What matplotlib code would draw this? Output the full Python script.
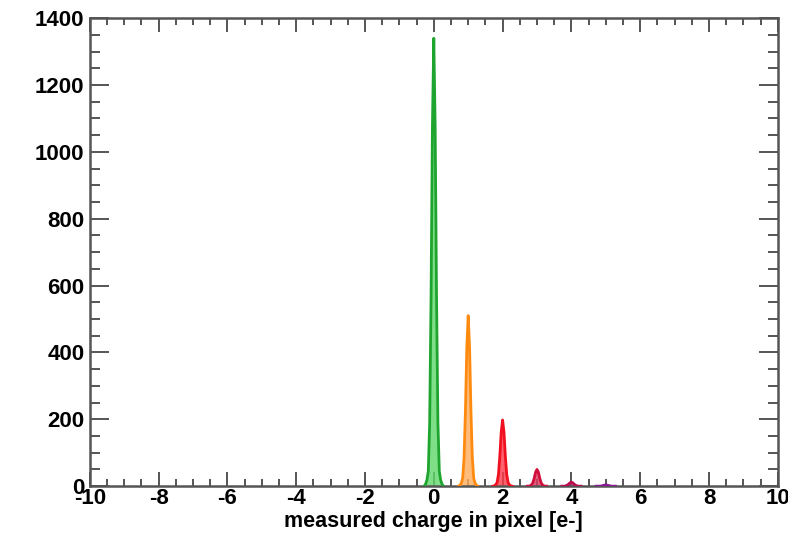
import numpy as np
import matplotlib.pyplot as plt
from matplotlib.ticker import MultipleLocator

plt.rcParams['font.family'] = ['Liberation Sans', 'DejaVu Sans']
plt.rcParams['font.weight'] = 'bold'
plt.rcParams['axes.unicode_minus'] = False

# bin offsets around each charge peak (bin width 0.04 e-)
offsets = [-0.28, -0.24, -0.20, -0.16, -0.12, -0.08, -0.04, 0.0,
           0.04, 0.08, 0.12, 0.16, 0.20, 0.24, 0.28]

# peak positions (electrons)
peak_pos = [0, 1, 2, 3, 4, 5]

# counts per bin, one list per peak
counts_0e = [0, 6, 18, 45, 190, 560, 1075, 1340, 1075, 560, 190, 45, 18, 6, 0]
counts_1e = [0, 3, 9, 24, 85, 225, 415, 510, 415, 225, 85, 24, 9, 3, 0]
counts_2e = [0, 1, 4, 11, 35, 90, 162, 198, 162, 90, 35, 11, 4, 1, 0]
counts_3e = [0, 0, 1, 4, 10, 24, 42, 50, 42, 24, 10, 4, 1, 0, 0]
counts_4e = [0, 0, 0, 1, 3, 6, 10, 12, 10, 6, 3, 1, 0, 0, 0]
counts_5e = [0, 0, 0, 0, 1, 2, 3, 4, 3, 2, 1, 0, 0, 0, 0]

all_counts = [counts_0e, counts_1e, counts_2e, counts_3e, counts_4e, counts_5e]
edge_cols = ['#1fa52f', '#ff8a10', '#f01020', '#d0103c', '#b80c50', '#8a1a9a']
fill_cols = ['#5fd86a', '#ffac5a', '#ff3a48', '#e0385e', '#c83070', '#a040b0']

fig = plt.figure(figsize=(7.88, 5.36), dpi=100)
ax = fig.add_axes([0.114, 0.093, 0.873, 0.873])

for pos, cnt, ec, fc in zip(peak_pos, all_counts, edge_cols, fill_cols):
    x = pos + np.array(offsets)
    y = np.array(cnt)
    ax.fill_between(x, 0, y, color=fc, alpha=0.8, linewidth=0, zorder=2)
    ax.plot(x, y, color=ec, linewidth=2.0, zorder=3)

ax.set_xlim(-10, 10)
ax.set_ylim(0, 1400)

ax.xaxis.set_major_locator(MultipleLocator(2))
ax.xaxis.set_minor_locator(MultipleLocator(0.5))
ax.yaxis.set_major_locator(MultipleLocator(200))
ax.yaxis.set_minor_locator(MultipleLocator(50))

ax.tick_params(which='both', direction='in', top=True, right=True,
               color='#555555', width=1.4)
ax.tick_params(axis='y', which='major', length=14, labelsize=16, pad=4)
ax.tick_params(axis='y', which='minor', length=7)
ax.tick_params(axis='x', which='major', length=10, labelsize=16, pad=1)
ax.tick_params(axis='x', which='minor', length=5)

for s in ax.spines.values():
    s.set_color('#555555')
    s.set_linewidth(1.8)

ax.set_xlabel('measured charge in pixel [e-]', fontsize=15.5,
              fontweight='bold')
ax.xaxis.set_label_coords(0.5, -0.053)

fig.savefig('out.png', dpi=100)
